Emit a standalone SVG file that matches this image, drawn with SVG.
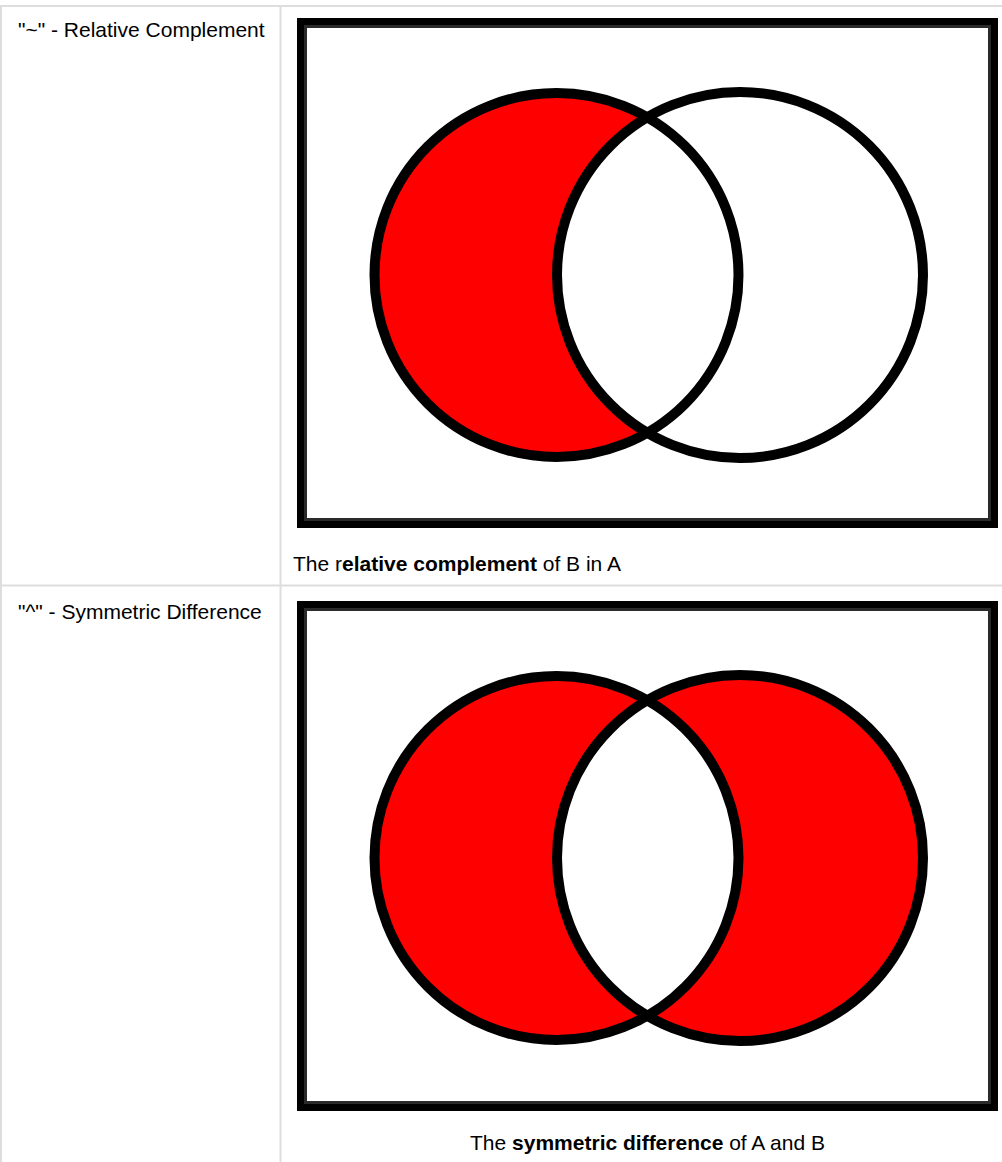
<svg xmlns="http://www.w3.org/2000/svg" width="1002" height="1162" viewBox="0 0 1002 1162">
<style>
.grid{stroke:#dddddd;stroke-width:2;fill:none}
.lbl{font-family:"Liberation Sans",Arial,sans-serif;font-size:21px;fill:#000}
.b{font-weight:bold}
.frameOuter{fill:#fff;stroke:#000;stroke-width:7}
.frameInner{fill:none;stroke:#2a2a2a;stroke-width:3}
.ring{fill:none;stroke:#000;stroke-width:10}
.red{fill:#ff0000}
.wht{fill:#fff}
</style>
<defs>
<clipPath id="clipB2"><circle cx="740" cy="858" r="183"/></clipPath>
</defs>
<rect width="1002" height="1162" fill="#fff"/>
<g id="table">
<line class="grid" x1="1" y1="6" x2="1002" y2="6"/>
<line class="grid" x1="1" y1="5" x2="1" y2="1162"/>
<line class="grid" x1="280.5" y1="5" x2="280.5" y2="1162"/>
<line class="grid" x1="1" y1="585.5" x2="1002" y2="585.5"/>
</g>
<g id="row1-label"><text class="lbl" x="18" y="37">"~" - Relative Complement</text></g>
<g id="row2-label"><text class="lbl" x="18" y="619">"^" - Symmetric Difference</text></g>
<g id="diagram1">
<rect class="frameOuter" x="300.5" y="21.5" width="694" height="503"/>
<rect class="frameInner" x="305.5" y="26.5" width="684" height="493"/>
<circle class="red" cx="556.5" cy="275" r="182"/>
<circle class="wht" cx="740" cy="275" r="183"/>
<circle class="ring" cx="556.5" cy="275" r="182"/>
<circle class="ring" cx="740" cy="275" r="183"/>
</g>
<g id="caption1"><text class="lbl" x="293" y="571">The r<tspan class="b">elative complement</tspan> of B in A</text></g>
<g id="diagram2">
<rect class="frameOuter" x="300.5" y="604.5" width="694" height="503"/>
<rect class="frameInner" x="305.5" y="609.5" width="684" height="493"/>
<circle class="red" cx="556.5" cy="858" r="182"/>
<circle class="red" cx="740" cy="858" r="183"/>
<circle class="wht" cx="556.5" cy="858" r="182" clip-path="url(#clipB2)"/>
<circle class="ring" cx="556.5" cy="858" r="182"/>
<circle class="ring" cx="740" cy="858" r="183"/>
</g>
<g id="caption2"><text class="lbl" x="647.5" y="1150" text-anchor="middle">The <tspan class="b">symmetric difference</tspan> of A and B</text></g>
</svg>
